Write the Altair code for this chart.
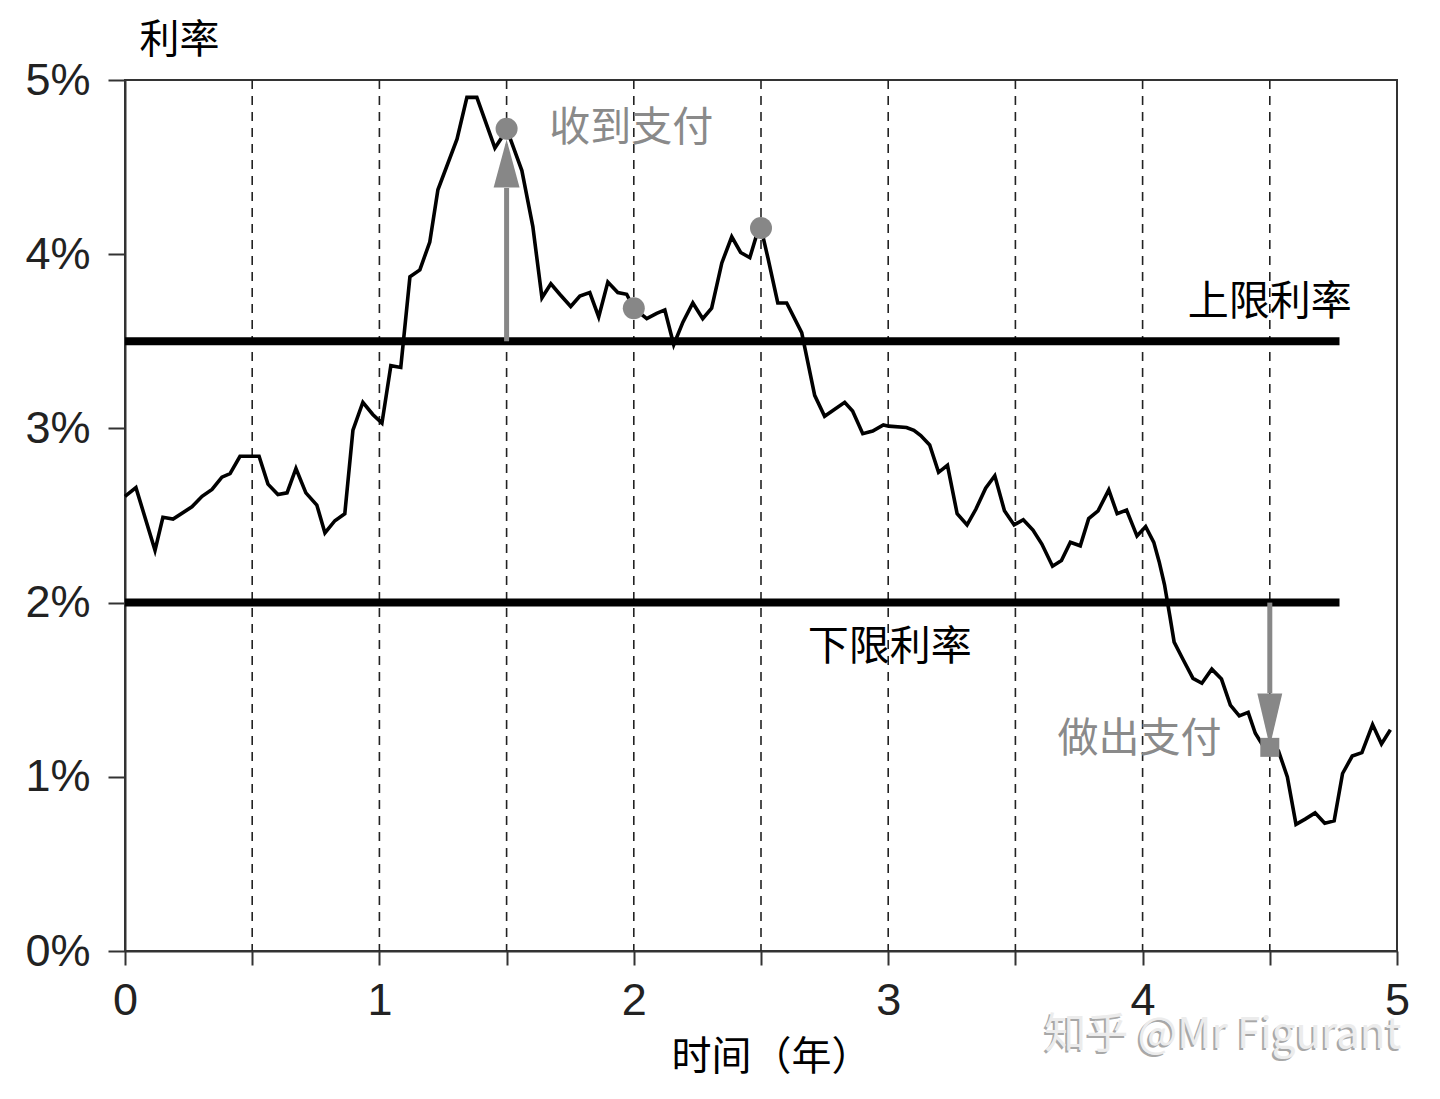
import altair as alt
import pandas as pd

# ---- data ----
t_vals = [0.00, 0.043, 0.118, 0.149, 0.189, 0.263, 0.303, 0.342, 0.381, 0.413, 0.452, 0.527,
          0.562, 0.601, 0.637, 0.672, 0.711, 0.754, 0.786, 0.825, 0.864, 0.896, 0.935, 0.974,
          1.010, 1.045, 1.084, 1.120, 1.159, 1.198, 1.230, 1.305, 1.344, 1.383, 1.454, 1.481,
          1.500, 1.560, 1.603, 1.639, 1.674, 1.709, 1.752, 1.788, 1.827, 1.862, 1.898, 1.937,
          1.972, 2.000, 2.051, 2.090, 2.122, 2.157, 2.193, 2.232, 2.271, 2.306, 2.346, 2.385,
          2.420, 2.456, 2.487, 2.500, 2.527, 2.566, 2.601, 2.660, 2.711, 2.750, 2.829, 2.860,
          2.900, 2.939, 2.981, 3.002, 3.072, 3.101, 3.128, 3.163, 3.198, 3.233, 3.271, 3.310,
          3.345, 3.383, 3.419, 3.457, 3.495, 3.531, 3.569, 3.604, 3.646, 3.681, 3.716, 3.755,
          3.788, 3.825, 3.867, 3.900, 3.937, 3.978, 4.012, 4.044, 4.065, 4.086, 4.107, 4.124,
          4.156, 4.198, 4.233, 4.272, 4.310, 4.345, 4.380, 4.415, 4.443, 4.471, 4.500, 4.534,
          4.569, 4.603, 4.639, 4.678, 4.716, 4.753, 4.786, 4.824, 4.862, 4.904, 4.939, 4.974]
r_vals = [2.61, 2.66, 2.30, 2.49, 2.48, 2.55, 2.61, 2.65, 2.72, 2.74, 2.84, 2.84,
          2.68, 2.62, 2.63, 2.77, 2.63, 2.56, 2.40, 2.47, 2.51, 2.99, 3.15, 3.08,
          3.03, 3.36, 3.35, 3.87, 3.91, 4.07, 4.37, 4.66, 4.90, 4.90, 4.61, 4.67,
          4.72, 4.48, 4.16, 3.75, 3.83, 3.77, 3.70, 3.76, 3.78, 3.64, 3.84, 3.78,
          3.77, 3.69, 3.63, 3.66, 3.68, 3.48, 3.61, 3.72, 3.63, 3.69, 3.95, 4.10,
          4.01, 3.98, 4.13, 4.15, 3.98, 3.72, 3.72, 3.55, 3.19, 3.07, 3.15, 3.10,
          2.97, 2.985, 3.02, 3.013, 3.005, 2.989, 2.959, 2.905, 2.748, 2.788, 2.510, 2.446,
          2.537, 2.657, 2.728, 2.527, 2.446, 2.476, 2.416, 2.336, 2.209, 2.241, 2.346, 2.326,
          2.482, 2.527, 2.647, 2.510, 2.531, 2.382, 2.436, 2.346, 2.235, 2.104, 1.924, 1.773,
          1.682, 1.565, 1.537, 1.618, 1.561, 1.411, 1.350, 1.370, 1.250, 1.184, 1.169, 1.149,
          0.999, 0.727, 0.757, 0.793, 0.733, 0.747, 1.019, 1.119, 1.139, 1.300, 1.189, 1.270]

cap_rate = 3.5
floor_rate = 2.0
band_end = 4.774

grid_t = [0.5, 1.0, 1.5, 2.0, 2.5, 3.0, 3.5, 4.0, 4.5]
x_ticks = [0, 0.5, 1, 1.5, 2, 2.5, 3, 3.5, 4, 4.5, 5]
y_ticks = [0, 1, 2, 3, 4, 5]

dot_t = [1.5, 2.0, 2.5]
dot_r = [4.72, 3.69, 4.15]
square_t = [4.5]
square_r = [1.169]

up_arrow = {"t": 1.5, "from": 3.5, "base": 4.38, "mid": 4.52}
down_arrow = {"t": 4.5, "from": 2.0, "base": 1.48, "mid": 1.326}

note_labels = ["收到支付", "上限利率", "下限利率", "做出支付"]
note_t = [1.99, 4.50, 3.006, 3.988]
note_r = [4.72, 3.72, 1.74, 1.21]
note_colors = ["#8a8a8a", "#000000", "#000000", "#8a8a8a"]

watermark = "知乎 @Mr Figurant"

GRAY = "#878787"
CJK = "Noto Sans CJK SC"
LAT = "Liberation Sans"

xscale = alt.Scale(domain=[0, 5], nice=False, zero=False)
yscale = alt.Scale(domain=[0, 5], nice=False, zero=False)

xaxis = alt.Axis(values=x_ticks,
                 labelExpr="datum.value % 1 === 0 ? format(datum.value, 'd') : ''",
                 grid=False, tickSize=14, tickWidth=2, tickColor="#333333",
                 domainColor="#333333", domainWidth=2, labelFont=LAT, labelFontSize=45,
                 labelColor="#222222", labelPadding=13, labelFlush=False, labelOverlap=False,
                 title="时间（年）", titleFont=CJK, titleFontSize=40, titleFontWeight="normal",
                 titleColor="#000000", titleAlign="center", titleBaseline="middle",
                 titleX=646, titleY=106)
yaxis = alt.Axis(values=y_ticks, labelExpr="datum.value + '%'", grid=False, tickSize=17,
                 tickWidth=2, tickColor="#333333", domainColor="#333333", domainWidth=2,
                 labelFont=LAT, labelFontSize=45, labelColor="#222222", labelPadding=18,
                 title="利率", titleFont=CJK, titleFontSize=40, titleFontWeight="normal",
                 titleColor="#000000", titleAngle=0, titleAlign="center",
                 titleBaseline="middle", titleX=54, titleY=-40)

X = alt.X("t:Q", scale=xscale, axis=xaxis)
Y = alt.Y("r:Q", scale=yscale, axis=yaxis)

grid = alt.Chart(pd.DataFrame({"t": grid_t})).mark_rule(
    strokeDash=[9, 7], strokeWidth=1.6, color="#222222").encode(x=X)

bands = alt.Chart(pd.DataFrame({"t": [0, 0], "t2": [band_end, band_end],
                                "r": [cap_rate, floor_rate]})).mark_rule(
    strokeWidth=8, color="#000000").encode(x=X, x2="t2:Q", y=Y)

shafts = alt.Chart(pd.DataFrame({"t": [up_arrow["t"], down_arrow["t"]],
                                 "r": [up_arrow["from"], down_arrow["from"]],
                                 "r2": [up_arrow["base"], down_arrow["base"]]})).mark_rule(
    strokeWidth=5, color=GRAY).encode(x=X, y=Y, y2="r2:Q")

line = alt.Chart(pd.DataFrame({"t": t_vals, "r": r_vals})).mark_line(
    color="#000000", strokeWidth=3.6, strokeJoin="miter").encode(x=X, y=Y)

head_up = alt.Chart(pd.DataFrame({"t": [up_arrow["t"]], "r": [up_arrow["mid"]]})).mark_point(
    shape="M-0.54,1L0,-1L0.54,1Z", size=2304, filled=True, opacity=1, color=GRAY,
    strokeWidth=0).encode(x=X, y=Y)
head_down = alt.Chart(pd.DataFrame({"t": [down_arrow["t"]], "r": [down_arrow["mid"]]})).mark_point(
    shape="M-0.47,-1L0.47,-1L0,1Z", size=2809, filled=True, opacity=1, color=GRAY,
    strokeWidth=0).encode(x=X, y=Y)

dots = alt.Chart(pd.DataFrame({"t": dot_t, "r": dot_r})).mark_circle(
    size=484, color=GRAY, opacity=1).encode(x=X, y=Y)
square = alt.Chart(pd.DataFrame({"t": square_t, "r": square_r})).mark_square(
    size=361, color=GRAY, opacity=1).encode(x=X, y=Y)

notes = alt.Chart(pd.DataFrame({"label": note_labels, "t": note_t, "r": note_r,
                                "c": note_colors})).mark_text(
    font=CJK, fontSize=41, align="center", baseline="middle").encode(
    x=X, y=Y, text="label:N", color=alt.Color("c:N", scale=None))

wm_df = pd.DataFrame({"label": [watermark], "t": [4.315], "r": [-0.48]})
wm_shadow = alt.Chart(wm_df).mark_text(font=CJK, fontSize=42, align="center", baseline="middle",
                                       color="#a8a8a8", dx=-2, dy=2).encode(x=X, y=Y, text="label:N")
wm_main = alt.Chart(wm_df).mark_text(font=CJK, fontSize=42, align="center", baseline="middle",
                                     color="#ececec").encode(x=X, y=Y, text="label:N")

chart = alt.layer(grid, bands, shafts, head_up, head_down, line, dots, square, notes,
                  wm_shadow, wm_main).properties(
    width=1272, height=871,
    autosize=alt.AutoSizeParams(type="none"),
    padding={"left": 117, "top": 72, "right": 35, "bottom": 130},
    background="#ffffff",
).configure_view(stroke="#333333", strokeWidth=2)

chart.save("out.html", embed_options={"renderer": "svg", "actions": False})
